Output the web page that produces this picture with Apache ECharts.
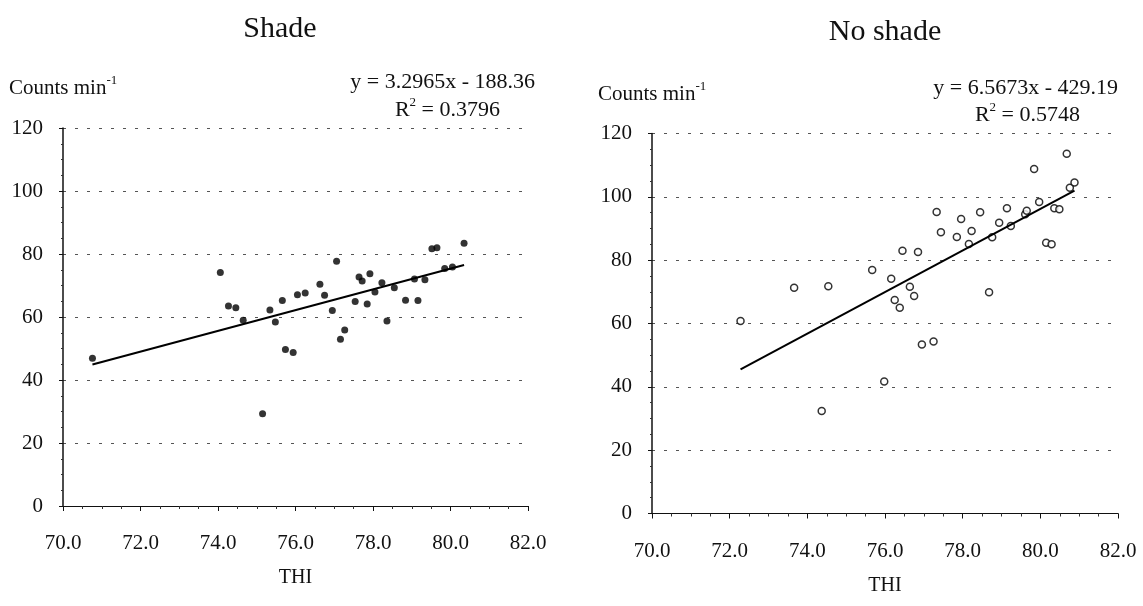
<!DOCTYPE html>
<html><head><meta charset="utf-8">
<script src="https://cdn.jsdelivr.net/npm/echarts@6/dist/echarts.min.js"></script>
<style>html,body{margin:0;padding:0;background:#fff}#c{width:1143px;height:606px}</style>
</head><body><div id="c"></div>
<script>
// ---- data ----
const xTicks = [70, 72, 74, 76, 78, 80, 82];
const yTicks = [0, 20, 40, 60, 80, 100, 120];
const shadeTHI = [70.76,74.06,74.27,74.46,74.65,75.15,75.34,75.48,75.66,75.74,75.94,76.05,76.25,76.63,76.75,76.95,77.06,77.16,77.27,77.54,77.64,77.72,77.85,77.92,78.05,78.23,78.36,78.55,78.84,79.07,79.16,79.34,79.52,79.65,79.85,80.05,80.35];
const shadeCounts = [46.9,74.1,63.5,62.9,59.0,29.3,62.2,58.4,65.2,49.7,48.7,67.1,67.6,70.4,66.9,62.1,77.7,52.9,55.9,64.9,72.7,71.4,64.1,73.7,67.9,70.9,58.7,69.3,65.3,72.1,65.2,71.8,81.7,82.0,75.4,75.9,83.4];
const noShadeTHI = [72.28,73.66,74.54,74.37,75.67,75.98,76.16,76.25,76.38,76.45,76.64,76.75,76.85,76.95,77.25,77.33,77.44,77.85,77.96,78.16,78.23,78.45,78.68,78.76,78.94,79.14,79.24,79.61,79.65,79.84,79.97,80.15,80.29,80.36,80.49,80.68,80.76,80.88];
const noShadeCounts = [60.8,71.3,71.8,32.4,76.9,41.7,74.1,67.4,65.0,83.0,71.6,68.7,82.6,53.4,54.3,95.2,88.8,87.3,93.0,85.1,89.2,95.1,69.9,87.2,91.8,96.4,90.8,94.5,95.6,108.8,98.4,85.5,85.0,96.4,96.1,113.6,102.9,104.5];
const shadeFit = {slope: 3.2965, intercept: -188.36, r2: '0.3796', eq: 'y = 3.2965x - 188.36'};
const noShadeFit = {slope: 6.5673, intercept: -429.19, r2: '0.5748', eq: 'y = 6.5673x - 429.19'};
const titles = ['Shade', 'No shade'];
const xName = 'THI';
const yName = 'Counts min';

// ---- build ----
const FONT = '"Liberation Serif","Times New Roman",serif';
const pairs = (xs, ys) => xs.map((x, i) => [x, ys[i]]);
const trend = (xs, f) => {
  const lo = Math.min(...xs), hi = Math.max(...xs);
  return [[lo, f.slope * lo + f.intercept], [hi, f.slope * hi + f.intercept]];
};
const grids = [
  {left: 63, right: 615, top: 128, bottom: 100},
  {left: 652, right: 25, top: 133.5, bottom: 92.5}
];
function xAxis(i, margin, gap) {
  return {
    gridIndex: i, type: 'value', min: xTicks[0], max: xTicks[xTicks.length - 1], interval: 2,
    name: xName, nameLocation: 'middle', nameGap: gap,
    nameTextStyle: {fontFamily: FONT, fontSize: 20, color: '#111'},
    axisLine: {show: true, onZero: false, lineStyle: {color: '#111', width: 1.2}},
    axisTick: {show: true, inside: false, length: 5, lineStyle: {color: '#111'}},
    minorTick: {show: true, splitNumber: 4, length: 3, lineStyle: {color: '#333'}},
    splitLine: {show: false},
    axisLabel: {margin: margin, fontFamily: FONT, fontSize: 21, color: '#111', formatter: v => v.toFixed(1)}
  };
}
function yAxis(i) {
  return {
    gridIndex: i, type: 'value', min: yTicks[0], max: yTicks[yTicks.length - 1], interval: 20,
    axisLine: {show: true, lineStyle: {color: '#111', width: 1.5}},
    axisTick: {show: true, length: 4, lineStyle: {color: '#111'}},
    minorTick: {show: true, splitNumber: 4, length: 2, lineStyle: {color: '#333'}},
    splitLine: {show: true, lineStyle: {color: '#555', width: 1, type: [3, 9]}},
    axisLabel: {margin: 20, fontFamily: FONT, fontSize: 21, color: '#111'}
  };
}
const txt = (x, y, text, size, align, rich) => ({
  type: 'text', x: x, y: y,
  style: {text: text, font: size + 'px ' + FONT, fill: '#111', align: align || 'left', verticalAlign: 'middle', rich: rich}
});
const richSup = (s) => ({
  a: {fontFamily: FONT, fontSize: s, color: '#111'},
  b: {fontFamily: FONT, fontSize: Math.round(s * 0.6), color: '#111', padding: [0, 0, 14, 0]}
});
const chart = echarts.init(document.getElementById('c'), null, {renderer: 'canvas'});
chart.setOption({
  backgroundColor: '#fff',
  animation: false,
  grid: grids,
  xAxis: [xAxis(0, 27, 62), xAxis(1, 27, 62)],
  yAxis: [yAxis(0), yAxis(1)],
  series: [
    {type: 'scatter', xAxisIndex: 0, yAxisIndex: 0, data: pairs(shadeTHI, shadeCounts),
     symbol: 'circle', symbolSize: 7, itemStyle: {color: '#000'}},
    {type: 'line', xAxisIndex: 0, yAxisIndex: 0, data: trend(shadeTHI, shadeFit),
     showSymbol: false, lineStyle: {color: '#000', width: 2}},
    {type: 'scatter', xAxisIndex: 1, yAxisIndex: 1, data: pairs(noShadeTHI, noShadeCounts),
     symbol: 'circle', symbolSize: 7, itemStyle: {color: '#fff', borderColor: '#000', borderWidth: 1.5}},
    {type: 'line', xAxisIndex: 1, yAxisIndex: 1, data: trend(noShadeTHI, noShadeFit),
     showSymbol: false, lineStyle: {color: '#000', width: 2}}
  ],
  graphic: [
    txt(280, 29, titles[0], 30, 'center'),
    txt(885, 32, titles[1], 30, 'center'),
    txt(9, 88, '{a|' + yName + '}{b|-1}', 21, 'left', richSup(21)),
    txt(598, 94, '{a|' + yName + '}{b|-1}', 21, 'left', richSup(21)),
    txt(535, 82, shadeFit.eq, 22, 'right'),
    txt(500, 110, '{a|R}{b|2}{a| = ' + shadeFit.r2 + '}', 22, 'right', richSup(22)),
    txt(1118, 88, noShadeFit.eq, 22, 'right'),
    txt(1080, 115, '{a|R}{b|2}{a| = ' + noShadeFit.r2 + '}', 22, 'right', richSup(22))
  ]
});
</script></body></html>
